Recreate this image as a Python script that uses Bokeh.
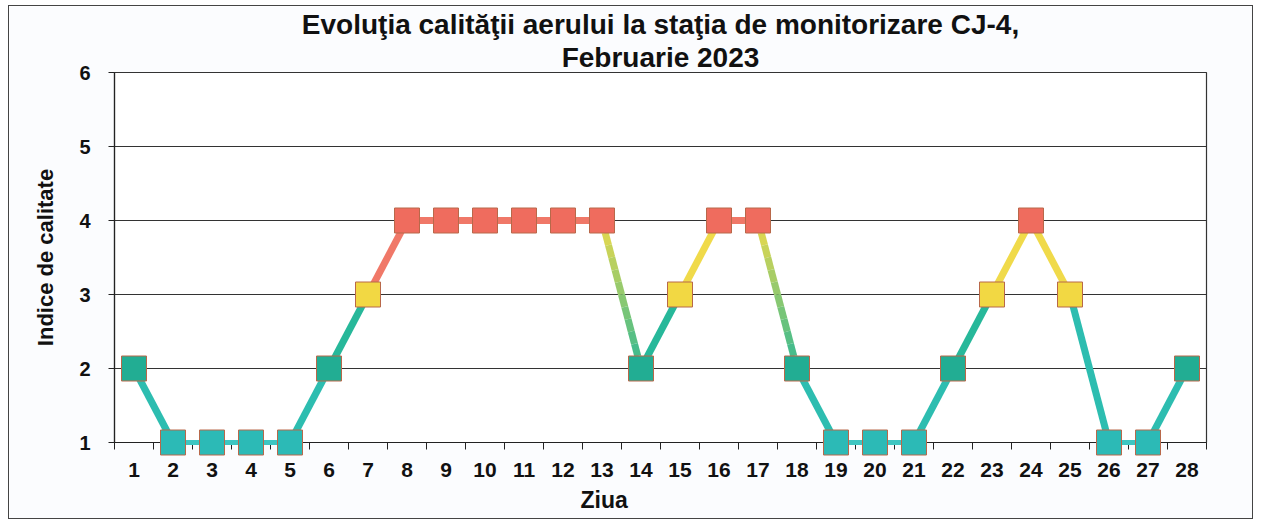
from bokeh.plotting import figure
from bokeh.models import Range1d, FixedTicker, Title
from bokeh.embed import file_html
from bokeh.resources import INLINE

# ---------------- data ----------------
DAYS = list(range(1, 29))
AQI = [2, 1, 1, 1, 1, 2, 3, 4, 4, 4, 4, 4, 4, 2, 3, 4, 4, 2, 1, 1, 1, 2, 3, 4, 3, 1, 1, 2]
Y_TICKS = [1, 2, 3, 4, 5, 6]
TITLE_1 = "Evoluţia calităţii aerului la staţia de monitorizare CJ-4,"
TITLE_2 = "Februarie 2023"
X_LABEL = "Ziua"
Y_LABEL = "Indice de calitate"

# ---------------- styles ----------------
FONT = "Liberation Sans"
MARKER_COLORS = {1: "#2cbab6", 2: "#22ad93", 3: "#f2d843", 4: "#ef6c5e"}
LT, TE, GT, RD, YE, GY = "#3ec6c2", "#2dbdb0", "#27b89a", "#f07868", "#f0da4a", "#2fb894"
# colour (start, end) of each of the 27 connecting segments
SEG_COLORS = [
    (TE, TE), (LT, LT), (LT, LT), (LT, LT), (TE, TE), (GT, GT), (RD, RD),
    (RD, RD), (RD, RD), (RD, RD), (RD, RD), (RD, RD), (YE, GY), (GT, GT),
    (YE, YE), (RD, RD), (YE, GY), (TE, TE), (LT, LT), (LT, LT), (TE, TE),
    (GT, GT), (YE, YE), (YE, YE), (TE, TE), (LT, LT), (TE, TE),
]


def mix(c0, c1, t):
    a = [int(c0[i:i + 2], 16) for i in (1, 3, 5)]
    b = [int(c1[i:i + 2], 16) for i in (1, 3, 5)]
    return "#%02x%02x%02x" % tuple(round(a[k] + (b[k] - a[k]) * t) for k in range(3))


p = figure(
    width=1245, height=514,
    x_range=Range1d(0.5, 28.5), y_range=Range1d(1, 6),
    output_backend="svg", toolbar_location=None, title=None,
    min_border_left=105, min_border_right=48, min_border_top=64, min_border_bottom=78,
    background_fill_color="#ffffff", border_fill_color="#fbfcfe",
)
p.styles = {"border": "1.5px solid #444", "margin": "5px 0 0 8px"}
p.outline_line_color = "#333333"
p.outline_line_width = 1.2

# titles (first added is closest to the frame)
p.add_layout(Title(text=TITLE_2, align="center", text_font=FONT, text_font_size="28px",
                   text_font_style="bold", text_color="#111111", standoff=0), "above")
p.add_layout(Title(text=TITLE_1, align="center", text_font=FONT, text_font_size="28px",
                   text_font_style="bold", text_color="#111111", standoff=0), "above")
# x axis title, placed left of centre as in the original
p.add_layout(Title(text=X_LABEL, align="left", offset=466, text_font=FONT, text_font_size="23px",
                   text_font_style="bold", text_color="#111111", standoff=10), "below")

# axes
p.xaxis.ticker = FixedTicker(ticks=DAYS, minor_ticks=[d - 0.5 for d in DAYS] + [DAYS[-1] + 0.5])
p.yaxis.ticker = FixedTicker(ticks=Y_TICKS)
for ax in (p.xaxis, p.yaxis):
    ax.axis_line_color = "#222222"
    ax.axis_line_width = 1.2
    ax.major_label_text_font = FONT
    ax.major_label_text_font_style = "bold"
    ax.major_label_text_color = "#111111"
    ax.axis_label_text_font = FONT
    ax.axis_label_text_font_style = "bold"
    ax.axis_label_text_color = "#111111"
p.xaxis.major_label_text_font_size = "21px"
p.yaxis.major_label_text_font_size = "20px"
p.xaxis.major_tick_line_color = None
p.xaxis.minor_tick_line_color = "#222222"
p.xaxis.minor_tick_in = 0
p.xaxis.minor_tick_out = 7
p.xaxis.major_label_standoff = 13
p.yaxis.major_tick_in = 0
p.yaxis.major_tick_out = 6
p.yaxis.major_tick_line_color = "#222222"
p.yaxis.minor_tick_line_color = None
p.yaxis.major_label_standoff = 18
p.yaxis.axis_label = Y_LABEL
p.yaxis.axis_label_text_font_size = "22px"
p.yaxis.axis_label_standoff = 18

p.xgrid.grid_line_color = None
p.ygrid.grid_line_color = "#333333"
p.ygrid.grid_line_width = 1.2

# connecting lines (gradient segments split into pieces)
N = 12
for i, (c0, c1) in enumerate(SEG_COLORS):
    x0, y0, x1, y1 = DAYS[i], AQI[i], DAYS[i + 1], AQI[i + 1]
    w = 5 if y0 == y1 == 1 else 7
    if c0 == c1:
        p.segment(x0=[x0], y0=[y0], x1=[x1], y1=[y1], line_color=c0, line_width=w, level="overlay")
    else:
        xs0, ys0, xs1, ys1, cs = [], [], [], [], []
        for k in range(N):
            t0, t1 = k / N, (k + 1) / N
            xs0.append(x0 + (x1 - x0) * t0); ys0.append(y0 + (y1 - y0) * t0)
            xs1.append(x0 + (x1 - x0) * t1); ys1.append(y0 + (y1 - y0) * t1)
            cs.append(mix(c0, c1, (t0 + t1) / 2))
        p.segment(x0=xs0, y0=ys0, x1=xs1, y1=ys1, line_color=cs, line_width=w, level="overlay")

p.scatter(x=DAYS, y=AQI, marker="square", size=25,
          fill_color=[MARKER_COLORS[v] for v in AQI], line_color="#b8684a", line_width=1,
          level="overlay")

open("out.html", "w").write(file_html(p, INLINE))
